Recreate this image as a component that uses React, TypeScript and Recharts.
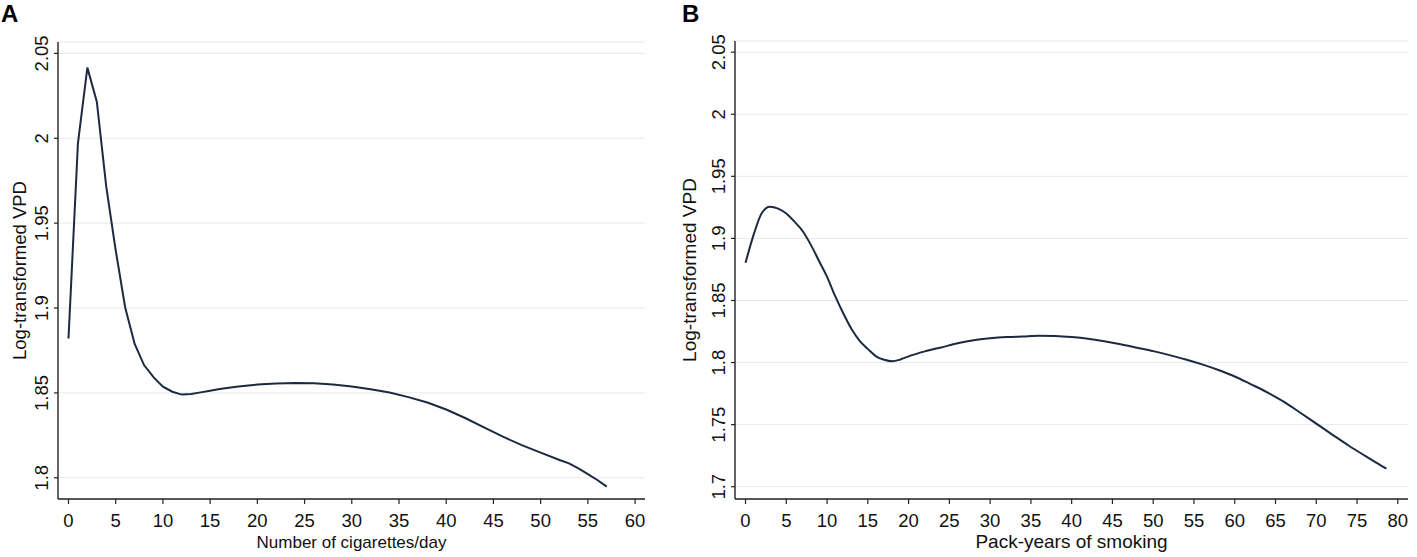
import { CartesianGrid, Line, LineChart, XAxis, YAxis } from "recharts";

// Panel A: cigarettes per day
const cigX = [0, 1, 2, 3, 4, 5, 6, 7, 8, 9, 10, 11, 12, 13, 14, 15, 16, 18, 20, 22, 24, 26, 28, 30, 32, 34, 36, 38, 40, 42, 44, 46, 48, 50, 52, 53, 54, 55, 56, 57];
const cigVpd = [
  1.882, 1.997, 2.0416, 2.0215, 1.9715, 1.934, 1.9005, 1.879, 1.8664, 1.8593, 1.8537, 1.8507, 1.849, 1.8493,
  1.8503, 1.8513, 1.8523, 1.8538, 1.8549, 1.8556, 1.8558, 1.8557, 1.8549, 1.8538, 1.8522, 1.8502, 1.8475,
  1.8443, 1.8402, 1.8352, 1.8297, 1.8242, 1.8192, 1.8148, 1.8105, 1.8085, 1.8055, 1.8022, 1.7987, 1.7948,
];
const cigTicks = [0, 5, 10, 15, 20, 25, 30, 35, 40, 45, 50, 55, 60];
const vpdTicksA = [1.8, 1.85, 1.9, 1.95, 2, 2.05];

// Panel B: pack-years
const packX = [0, 1, 2, 3, 4, 5, 6, 7, 8, 9, 10, 11, 12, 13, 14, 15, 16, 17, 18, 19, 20, 22, 24, 26, 28, 30, 32, 34, 36, 38, 40, 42, 44, 46, 48, 50, 52, 54, 56, 58, 60, 62, 64, 66, 68, 70, 72, 74, 76, 78, 78.6];
const packVpd = [
  1.8803, 1.903, 1.9205, 1.9255, 1.924, 1.92, 1.9135, 1.906, 1.895, 1.882, 1.869, 1.8535, 1.8395, 1.827,
  1.8175, 1.811, 1.805, 1.8022, 1.801, 1.8025, 1.805, 1.809, 1.8122, 1.8155, 1.818, 1.8195, 1.8205, 1.821,
  1.8215, 1.8213, 1.8205, 1.8192, 1.8172, 1.8148, 1.812, 1.8092, 1.806, 1.8025, 1.7985, 1.794, 1.7888,
  1.7825, 1.776, 1.7685, 1.7598, 1.7508, 1.7418, 1.733, 1.7248, 1.7168, 1.7145,
];
const packTicks = [0, 5, 10, 15, 20, 25, 30, 35, 40, 45, 50, 55, 60, 65, 70, 75, 80];
const vpdTicksB = [1.7, 1.75, 1.8, 1.85, 1.9, 1.95, 2, 2.05];

const cigData = cigX.map((x, i) => ({ x, vpd: cigVpd[i] }));
const packData = packX.map((x, i) => ({ x, vpd: packVpd[i] }));

const FONT = "'Liberation Sans', Arial, sans-serif";
const INK = "#111";
const AXIS = "#222";
const GRID = "#e3eaee";
const CURVE = "#1b2a41";

const XTick = ({ x, y, payload }: any) => (
  <text x={x} y={y} dy="0.71em" textAnchor="middle" fontSize={18.5} fill={INK} fontFamily={FONT}>
    {payload.value}
  </text>
);

const YTick = ({ x, y, payload }: any) => (
  <text x={x} y={y} transform={`rotate(-90 ${x} ${y})`} textAnchor="middle" fontSize={18.5} fill={INK} fontFamily={FONT}>
    {String(Number(payload.value.toFixed(2)))}
  </text>
);

const xTitle = (cx: number, text: string, size: number) => () => (
  <text x={cx} y={548} textAnchor="middle" fontSize={size} fill={INK} fontFamily={FONT}>
    {text}
  </text>
);

const yTitle = (bx: number, cy: number, size: number) => () => (
  <text x={bx} y={cy} transform={`rotate(-90 ${bx} ${cy})`} textAnchor="middle" fontSize={size} fill={INK} fontFamily={FONT}>
    Log-transformed VPD
  </text>
);

const PanelLetter = ({ left, text }: { left: number; text: string }) => (
  <div
    style={{
      position: "absolute",
      left,
      top: 1,
      fontFamily: FONT,
      fontWeight: 700,
      fontSize: 24,
      lineHeight: "26px",
      color: "#000",
    }}
  >
    {text}
  </div>
);

export default function App() {
  return (
    <div style={{ position: "absolute", left: 0, top: 0, width: 1417, height: 557, background: "#fff" }}>
      <div style={{ position: "absolute", left: 0, top: 0 }}>
        <LineChart width={670} height={557} data={cigData} margin={{ top: 42, right: 25, bottom: 0, left: 0 }}>
          <CartesianGrid horizontal vertical={false} stroke={GRID} strokeWidth={1} />
          <XAxis
            type="number"
            dataKey="x"
            domain={[-1.11, 61.05]}
            ticks={cigTicks}
            interval={0}
            allowDataOverflow
            height={58}
            tickSize={5}
            tickMargin={10}
            tick={<XTick />}
            axisLine={{ stroke: AXIS, strokeWidth: 1.4 }}
            tickLine={{ stroke: AXIS, strokeWidth: 1.2 }}
            label={xTitle(351.5, "Number of cigarettes/day", 17)}
          />
          <YAxis
            type="number"
            domain={[1.7875, 2.0567]}
            ticks={vpdTicksA}
            interval={0}
            allowDataOverflow
            width={58}
            tickSize={4}
            tickMargin={6}
            tick={<YTick />}
            axisLine={{ stroke: AXIS, strokeWidth: 1.4 }}
            tickLine={{ stroke: AXIS, strokeWidth: 1.2 }}
            label={yTitle(26, 270.5, 18.5)}
          />
          <Line
            type="linear"
            dataKey="vpd"
            stroke={CURVE}
            strokeWidth={2}
            dot={false}
            activeDot={false}
            isAnimationActive={false}
          />
        </LineChart>
      </div>
      <div style={{ position: "absolute", left: 672, top: 0 }}>
        <LineChart width={745} height={557} data={packData} margin={{ top: 41, right: 9, bottom: 0, left: 0 }}>
          <CartesianGrid horizontal vertical={false} stroke={GRID} strokeWidth={1} />
          <XAxis
            type="number"
            dataKey="x"
            domain={[-1.29, 81.25]}
            ticks={packTicks}
            interval={0}
            allowDataOverflow
            height={58}
            tickSize={5}
            tickMargin={10}
            tick={<XTick />}
            axisLine={{ stroke: AXIS, strokeWidth: 1.4 }}
            tickLine={{ stroke: AXIS, strokeWidth: 1.2 }}
            label={xTitle(399.5, "Pack-years of smoking", 19)}
          />
          <YAxis
            type="number"
            domain={[1.6901, 2.059]}
            ticks={vpdTicksB}
            interval={0}
            allowDataOverflow
            width={63}
            tickSize={4}
            tickMargin={6}
            tick={<YTick />}
            axisLine={{ stroke: AXIS, strokeWidth: 1.4 }}
            tickLine={{ stroke: AXIS, strokeWidth: 1.2 }}
            label={yTitle(24, 270, 19)}
          />
          <Line
            type="monotone"
            dataKey="vpd"
            stroke={CURVE}
            strokeWidth={2}
            dot={false}
            activeDot={false}
            isAnimationActive={false}
          />
        </LineChart>
      </div>
      <PanelLetter left={1} text="A" />
      <PanelLetter left={682} text="B" />
    </div>
  );
}
